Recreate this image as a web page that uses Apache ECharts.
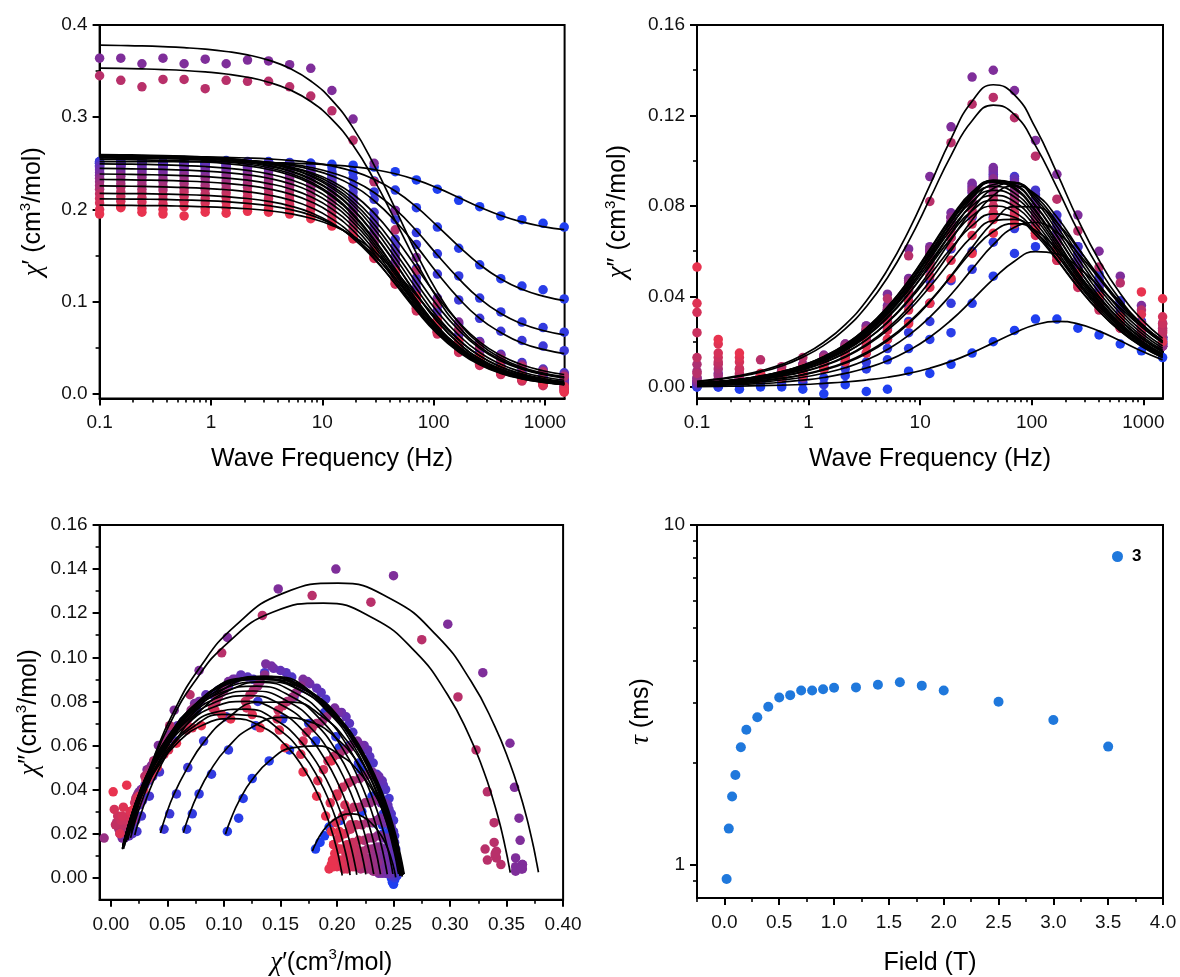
<!DOCTYPE html>
<html>
<head>
<meta charset="utf-8">
<script src="https://cdn.jsdelivr.net/npm/echarts@6/dist/echarts.min.js"></script>
<style>
html,body{margin:0;padding:0;background:#fff;}
#chart{width:1180px;height:977px;}
</style>
</head>
<body>
<div id="chart"></div>
<script>
// ---------------- data ----------------
// AC frequencies (Hz)
const freq = [0.1, 0.155, 0.24, 0.371, 0.574, 0.888, 1.37, 2.13, 3.29, 5.09, 7.88, 12.2, 18.9, 29.2, 45.2, 70.0, 108, 168, 259, 401, 621, 961, 1488];

// applied dc fields (T) and relaxation times (ms), panel d
const fieldT = [0.02, 0.04, 0.07, 0.1, 0.15, 0.2, 0.3, 0.4, 0.5, 0.6, 0.7, 0.8, 0.9, 1.0, 1.2, 1.4, 1.6, 1.8, 2.0, 2.5, 3.0, 3.5];
const tauMs = [0.91, 1.28, 1.59, 1.84, 2.22, 2.50, 2.72, 2.92, 3.11, 3.16, 3.26, 3.26, 3.29, 3.32, 3.33, 3.39, 3.45, 3.37, 3.26, 3.02, 2.67, 2.23];

// measured chi' (one row per field, one value per frequency)
const chiRealPts = [
[.250,.249,.251,.248,.250,.249,.250,.248,.249,.249,.250,.249,.248,.246,.241,.232,.222,.210,.203,.193,.189,.185,.181],
[.252,.250,.253,.251,.252,.250,.253,.251,.252,.251,.250,.246,.240,.231,.221,.202,.181,.158,.140,.125,.117,.113,.103],
[.251,.253,.252,.250,.253,.251,.252,.250,.251,.248,.247,.241,.234,.219,.199,.175,.152,.128,.104,.089,.078,.072,.067],
[.252,.250,.253,.251,.252,.251,.252,.251,.250,.249,.244,.238,.226,.211,.189,.162,.130,.102,.082,.068,.058,.052,.047],
[.250,.251,.252,.250,.252,.250,.251,.252,.251,.250,.246,.235,.219,.197,.168,.136,.104,.076,.057,.043,.034,.027,.023],
[.248,.250,.249,.251,.250,.248,.250,.251,.250,.248,.243,.232,.214,.190,.160,.126,.095,.069,.050,.037,.028,.022,.019],
[.247,.248,.249,.247,.249,.247,.248,.249,.248,.246,.241,.229,.211,.186,.155,.121,.090,.064,.046,.033,.025,.020,.016],
[.245,.247,.246,.245,.247,.246,.247,.246,.247,.245,.240,.227,.208,.182,.150,.115,.084,.059,.042,.030,.022,.018,.015],
[.243,.245,.244,.243,.245,.243,.244,.245,.244,.242,.237,.224,.204,.176,.144,.110,.079,.055,.038,.027,.020,.016,.012],
[.240,.242,.241,.240,.242,.241,.242,.241,.241,.239,.234,.221,.201,.174,.142,.108,.078,.055,.038,.027,.020,.016,.011],
[.237,.239,.238,.237,.239,.237,.238,.239,.238,.236,.231,.218,.198,.170,.137,.104,.074,.052,.036,.025,.018,.014,.010],
[.364,.364,.358,.364,.358,.363,.358,.362,.361,.357,.353,.329,.298,.250,.199,.148,.103,.078,.056,.042,.032,.026,.021],
[.234,.236,.235,.233,.236,.234,.235,.236,.235,.233,.228,.215,.195,.168,.136,.103,.073,.051,.035,.024,.017,.013,.008],
[.230,.232,.231,.230,.232,.230,.231,.232,.231,.229,.224,.211,.191,.164,.132,.100,.071,.049,.034,.023,.016,.010,-.006],
[.226,.228,.227,.225,.228,.226,.227,.228,.227,.225,.220,.207,.187,.161,.130,.098,.070,.048,.033,.023,.016,.012,.007],
[.222,.224,.222,.221,.223,.222,.223,.224,.222,.220,.214,.202,.182,.156,.126,.095,.068,.047,.032,.022,.015,.011,.005],
[.345,.340,.333,.341,.341,.331,.340,.339,.339,.333,.323,.307,.275,.230,.178,.134,.098,.070,.052,.038,.030,.024,.019],
[.217,.219,.218,.216,.219,.217,.218,.219,.217,.215,.210,.197,.178,.152,.123,.093,.067,.046,.032,.022,.015,.010,.004],
[.212,.214,.213,.211,.214,.212,.213,.214,.212,.210,.205,.192,.173,.148,.119,.090,.065,.045,.031,.021,.014,.009,.006],
[.207,.209,.208,.206,.209,.207,.208,.209,.207,.205,.200,.188,.170,.147,.120,.092,.067,.047,.033,.023,.016,.010,.003],
[.200,.203,.201,.200,.203,.201,.202,.203,.201,.199,.194,.183,.168,.149,.125,.098,.072,.051,.036,.025,.017,.011,.008],
[.195,.202,.197,.195,.193,.197,.196,.198,.197,.195,.190,.182,.170,.154,.132,.106,.080,.058,.041,.029,.020,.014,.002]
];

// measured chi''
const chiImagPts = [
[.000,.000,-.001,.000,.000,-.001,-.003,.001,-.002,-.001,.007,.006,.010,.015,.020,.025,.030,.030,.026,.023,.019,.016,.013],
[.001,.000,.001,.002,.001,.002,.004,.005,.008,.012,.017,.021,.024,.037,.049,.059,.062,.058,.053,.045,.036,.027,.021],
[.000,.001,.001,.002,.003,.004,.001,.008,.011,.017,.024,.029,.037,.052,.064,.070,.072,.069,.058,.047,.038,.029,.022],
[.001,.001,.002,.003,.004,.004,.008,.011,.015,.021,.029,.037,.047,.060,.075,.082,.080,.073,.062,.050,.038,.029,.022],
[.001,.002,.002,.003,.004,.006,.009,.013,.019,.026,.036,.047,.061,.075,.086,.093,.087,.076,.062,.048,.037,.028,.021],
[.001,.002,.003,.004,.005,.008,.011,.016,.021,.029,.040,.052,.066,.081,.091,.090,.085,.073,.059,.046,.035,.026,.020],
[.002,.002,.003,.004,.006,.008,.012,.016,.023,.031,.042,.055,.070,.084,.093,.091,.083,.071,.057,.044,.033,.025,.019],
[.002,.002,.003,.004,.006,.009,.012,.017,.024,.033,.044,.058,.073,.086,.094,.092,.083,.069,.055,.042,.032,.024,.019],
[.002,.002,.003,.005,.007,.009,.013,.018,.025,.034,.046,.060,.075,.088,.095,.090,.080,.067,.053,.040,.030,.023,.018],
[.002,.003,.003,.005,.006,.009,.013,.018,.025,.034,.046,.060,.075,.089,.096,.090,.080,.066,.052,.040,.030,.023,.019],
[.002,.003,.004,.005,.007,.010,.014,.019,.027,.036,.048,.062,.077,.090,.097,.089,.079,.065,.051,.039,.029,.022,.018],
[.004,.006,.003,.006,.005,.004,.009,.017,.027,.041,.061,.093,.115,.137,.140,.131,.109,.094,.076,.060,.049,.036,.028],
[.003,.003,.004,.005,.007,.010,.014,.019,.026,.035,.047,.061,.075,.087,.092,.087,.077,.064,.050,.038,.029,.022,.020],
[.004,.003,.004,.005,.007,.009,.013,.018,.025,.034,.046,.059,.073,.084,.089,.085,.076,.063,.049,.037,.028,.021,.018],
[.007,.005,.004,.005,.006,.009,.013,.018,.025,.034,.045,.058,.071,.082,.087,.084,.074,.061,.048,.036,.027,.021,.022],
[.010,.008,.005,.004,.006,.009,.012,.017,.024,.032,.044,.056,.070,.080,.085,.082,.072,.060,.047,.036,.027,.022,.025],
[.006,.010,.008,.012,.009,.013,.011,.016,.025,.039,.058,.082,.108,.125,.128,.119,.102,.083,.069,.053,.046,.034,.026],
[.013,.011,.006,.005,.006,.009,.012,.017,.024,.032,.043,.055,.068,.078,.083,.080,.071,.058,.046,.035,.026,.024,.024],
[.024,.013,.008,.005,.005,.008,.011,.016,.022,.030,.041,.053,.066,.076,.080,.077,.068,.056,.044,.034,.026,.026,.028],
[.033,.015,.011,.004,.004,.007,.010,.014,.020,.028,.038,.049,.062,.072,.077,.076,.067,.056,.045,.036,.028,.028,.031],
[.037,.019,.013,.005,.006,.006,.008,.013,.018,.025,.034,.044,.056,.067,.074,.074,.068,.058,.047,.037,.030,.032,.020],
[.053,.021,.015,.006,.004,.005,.008,.011,.015,.021,.028,.037,.048,.059,.068,.072,.069,.061,.050,.040,.031,.042,.039]
];

// fitted chi' curves (values at the same frequencies)
const chiRealFit = [
[.2519,.2519,.2519,.2518,.2517,.2516,.2515,.2512,.2509,.2503,.2495,.2482,.2463,.2433,.2387,.2321,.2234,.2130,.2026,.1935,.1865,.1815,.1782],
[.2578,.2578,.2576,.2575,.2573,.2570,.2565,.2558,.2548,.2533,.2509,.2472,.2415,.2328,.2200,.2028,.1820,.1601,.1403,.1247,.1135,.1061,.1013],
[.2558,.2556,.2555,.2553,.2550,.2545,.2538,.2528,.2513,.2490,.2455,.2399,.2313,.2185,.2003,.1770,.1507,.1251,.1034,.0872,.0761,.0688,.0641],
[.2567,.2566,.2564,.2561,.2557,.2551,.2543,.2530,.2511,.2481,.2435,.2364,.2256,.2095,.1875,.1603,.1309,.1037,.0819,.0667,.0553,.0483,.0438],
[.2576,.2574,.2572,.2568,.2563,.2556,.2544,.2528,.2502,.2463,.2401,.2307,.2165,.1960,.1690,.1372,.1054,.0777,.0565,.0416,.0317,.0252,.0211],
[.2586,.2584,.2581,.2577,.2571,.2563,.2550,.2531,.2502,.2457,.2388,.2280,.2118,.1891,.1600,.1274,.0958,.0692,.0494,.0357,.0269,.0211,.0174],
[.2585,.2583,.2580,.2576,.2570,.2561,.2547,.2526,.2494,.2445,.2369,.2253,.2080,.1839,.1535,.1204,.0892,.0637,.0449,.0322,.0238,.0184,.0149],
[.2595,.2593,.2589,.2585,.2578,.2568,.2553,.2531,.2496,.2443,.2360,.2232,.2046,.1791,.1478,.1143,.0836,.0591,.0415,.0296,.0218,.0168,.0135],
[.2585,.2582,.2579,.2574,.2567,.2556,.2540,.2517,.2480,.2423,.2335,.2200,.2003,.1737,.1419,.1086,.0787,.0551,.0383,.0271,.0199,.0152,.0122],
[.2575,.2572,.2569,.2564,.2557,.2546,.2531,.2507,.2470,.2414,.2326,.2192,.1995,.1730,.1414,.1082,.0784,.0549,.0382,.0270,.0198,.0152,.0121],
[.2564,.2562,.2558,.2553,.2546,.2534,.2518,.2492,.2453,.2393,.2299,.2157,.1952,.1677,.1354,.1025,.0736,.0512,.0353,.0248,.0180,.0136,.0108],
[.3782,.3778,.3773,.3765,.3754,.3738,.3713,.3676,.3619,.3530,.3393,.3186,.2885,.2482,.2009,.1527,.1104,.0776,.0544,.0390,.0290,.0226,.0185],
[.2544,.2542,.2538,.2533,.2526,.2515,.2498,.2473,.2434,.2374,.2281,.2141,.1937,.1664,.1343,.1017,.0730,.0508,.0351,.0247,.0179,.0136,.0107],
[.2494,.2492,.2489,.2484,.2476,.2466,.2449,.2424,.2386,.2327,.2237,.2099,.1899,.1632,.1317,.0997,.0716,.0499,.0345,.0243,.0176,.0134,.0106],
[.2445,.2442,.2439,.2434,.2427,.2416,.2400,.2376,.2339,.2281,.2192,.2057,.1861,.1600,.1292,.0978,.0703,.0490,.0339,.0239,.0174,.0132,.0105],
[.2385,.2382,.2379,.2374,.2367,.2357,.2341,.2318,.2281,.2225,.2138,.2007,.1816,.1561,.1260,.0955,.0686,.0478,.0332,.0234,.0171,.0130,.0104],
[.3532,.3529,.3524,.3517,.3507,.3491,.3469,.3434,.3380,.3298,.3170,.2977,.2696,.2321,.1880,.1430,.1036,.0730,.0514,.0370,.0277,.0218,.0179],
[.2325,.2323,.2319,.2315,.2308,.2298,.2283,.2260,.2224,.2170,.2085,.1957,.1771,.1522,.1229,.0932,.0670,.0468,.0325,.0229,.0167,.0128,.0102],
[.2255,.2253,.2250,.2245,.2239,.2229,.2214,.2192,.2157,.2104,.2022,.1898,.1718,.1477,.1193,.0905,.0651,.0455,.0316,.0224,.0164,.0126,.0101],
[.2175,.2173,.2171,.2167,.2161,.2152,.2139,.2119,.2088,.2040,.1966,.1853,.1688,.1465,.1199,.0920,.0669,.0471,.0331,.0237,.0176,.0137,.0112],
[.2116,.2114,.2112,.2109,.2103,.2096,.2085,.2067,.2041,.2001,.1939,.1843,.1701,.1503,.1254,.0982,.0727,.0517,.0363,.0258,.0190,.0145,.0117],
[.2047,.2045,.2043,.2041,.2036,.2030,.2021,.2008,.1987,.1955,.1905,.1828,.1713,.1547,.1327,.1069,.0810,.0585,.0413,.0292,.0212,.0160,.0126]
];

// fitted chi'' curves
const chiImagFit = [
[.0002,.0003,.0004,.0006,.0008,.0011,.0016,.0022,.0031,.0043,.0060,.0083,.0113,.0151,.0195,.0239,.0275,.0290,.0279,.0247,.0204,.0159,.0120],
[.0005,.0007,.0011,.0015,.0021,.0030,.0042,.0060,.0084,.0116,.0161,.0220,.0295,.0384,.0477,.0556,.0598,.0589,.0530,.0443,.0350,.0266,.0197],
[.0008,.0011,.0015,.0022,.0031,.0043,.0061,.0085,.0119,.0166,.0228,.0309,.0409,.0521,.0629,.0706,.0727,.0684,.0592,.0480,.0371,.0278,.0204],
[.0009,.0013,.0019,.0027,.0038,.0053,.0075,.0105,.0147,.0204,.0280,.0376,.0492,.0617,.0729,.0797,.0796,.0726,.0613,.0489,.0373,.0278,.0203],
[.0012,.0017,.0024,.0034,.0048,.0068,.0096,.0135,.0188,.0259,.0352,.0468,.0602,.0738,.0846,.0889,.0852,.0751,.0617,.0482,.0363,.0268,.0194],
[.0013,.0019,.0027,.0038,.0054,.0076,.0107,.0150,.0208,.0286,.0387,.0511,.0650,.0783,.0877,.0900,.0844,.0729,.0589,.0454,.0340,.0250,.0181],
[.0015,.0021,.0029,.0041,.0058,.0082,.0115,.0160,.0222,.0305,.0411,.0540,.0681,.0812,.0895,.0903,.0833,.0710,.0569,.0437,.0325,.0238,.0171],
[.0016,.0022,.0031,.0044,.0062,.0087,.0122,.0171,.0237,.0325,.0436,.0569,.0711,.0836,.0910,.0904,.0822,.0691,.0548,.0418,.0310,.0226,.0163],
[.0016,.0023,.0033,.0046,.0065,.0092,.0129,.0180,.0248,.0339,.0454,.0590,.0732,.0851,.0913,.0895,.0803,.0670,.0528,.0400,.0296,.0216,.0156],
[.0016,.0023,.0033,.0046,.0065,.0092,.0129,.0179,.0247,.0338,.0453,.0588,.0729,.0848,.0909,.0891,.0800,.0667,.0526,.0399,.0295,.0215,.0155],
[.0017,.0024,.0034,.0049,.0068,.0096,.0135,.0188,.0260,.0354,.0471,.0609,.0749,.0862,.0913,.0882,.0782,.0646,.0506,.0382,.0282,.0205,.0147],
[.0025,.0036,.0050,.0071,.0100,.0141,.0198,.0276,.0380,.0518,.0690,.0891,.1097,.1263,.1336,.1291,.1145,.0946,.0741,.0560,.0413,.0300,.0215],
[.0017,.0024,.0034,.0048,.0068,.0096,.0134,.0187,.0258,.0351,.0468,.0604,.0743,.0855,.0905,.0875,.0776,.0641,.0502,.0379,.0279,.0204,.0146],
[.0017,.0024,.0033,.0047,.0067,.0094,.0131,.0183,.0253,.0344,.0458,.0592,.0728,.0838,.0887,.0857,.0760,.0628,.0492,.0372,.0274,.0200,.0143],
[.0016,.0023,.0033,.0046,.0065,.0092,.0129,.0179,.0247,.0337,.0449,.0580,.0714,.0821,.0869,.0840,.0745,.0615,.0482,.0364,.0268,.0195,.0140],
[.0016,.0023,.0032,.0045,.0064,.0090,.0125,.0175,.0241,.0328,.0438,.0565,.0696,.0801,.0847,.0819,.0726,.0600,.0470,.0355,.0262,.0191,.0137],
[.0023,.0033,.0047,.0066,.0093,.0132,.0184,.0257,.0355,.0483,.0644,.0831,.1023,.1177,.1246,.1204,.1067,.0882,.0691,.0522,.0385,.0280,.0201],
[.0016,.0022,.0031,.0044,.0062,.0087,.0122,.0170,.0235,.0320,.0427,.0551,.0678,.0780,.0826,.0798,.0708,.0584,.0458,.0346,.0255,.0186,.0133],
[.0015,.0021,.0030,.0043,.0060,.0085,.0119,.0165,.0228,.0310,.0413,.0534,.0657,.0756,.0800,.0773,.0686,.0566,.0444,.0335,.0247,.0180,.0129],
[.0014,.0019,.0027,.0039,.0055,.0077,.0108,.0151,.0208,.0284,.0381,.0494,.0613,.0713,.0765,.0750,.0673,.0561,.0442,.0335,.0248,.0181,.0131],
[.0012,.0017,.0024,.0034,.0048,.0067,.0094,.0132,.0183,.0250,.0337,.0443,.0559,.0666,.0735,.0741,.0684,.0583,.0467,.0358,.0267,.0195,.0141],
[.0010,.0014,.0020,.0028,.0039,.0055,.0078,.0109,.0152,.0210,.0286,.0380,.0489,.0600,.0687,.0722,.0692,.0610,.0501,.0392,.0295,.0217,.0158]
];

// tick values
const freqTicks = [0.1, 1, 10, 100, 1000];
const freqMinorTicks = [0.2,0.3,0.4,0.5,0.6,0.7,0.8,0.9,2,3,4,5,6,7,8,9,20,30,40,50,60,70,80,90,200,300,400,500,600,700,800,900];
const chiRealTicks = [0, 0.1, 0.2, 0.3, 0.4];
const chiRealMinorTicks = [0.05, 0.15, 0.25, 0.35];
const chiImagTicks = [0, 0.04, 0.08, 0.12, 0.16];
const chiImagMinorTicks = [0.02, 0.06, 0.10, 0.14];
const coleXTicks = [0, 0.05, 0.10, 0.15, 0.20, 0.25, 0.30, 0.35, 0.40];
const coleXMinorTicks = [0.025, 0.075, 0.125, 0.175, 0.225, 0.275, 0.325, 0.375];
const coleYTicks = [0, 0.02, 0.04, 0.06, 0.08, 0.10, 0.12, 0.14, 0.16];
const coleYMinorTicks = [0.01, 0.03, 0.05, 0.07, 0.09, 0.11, 0.13, 0.15];
const fieldTicks = [0, 0.5, 1.0, 1.5, 2.0, 2.5, 3.0, 3.5, 4.0];
const fieldMinorTicks = [-0.25, 0.25, 0.75, 1.25, 1.75, 2.25, 2.75, 3.25, 3.75];
const tauTicks = [1, 10];
const tauMinorTicks = [0.9, 2, 3, 4, 5, 6, 7, 8, 9];

// ---------------- styles ----------------
const seriesColors = ['#1f3ff0','#293de8','#323bdf','#3c39d7','#4638cf','#4f36c7','#5934be','#6232b6','#6c30ae','#752fa6','#7a2e9e','#7f2e9a','#8e2f8b','#983083','#a2307b','#ac3173','#b8306a','#c03163','#ca325f','#d43259','#de3354','#e8334f'];
const FONT = '"Liberation Sans", Arial, Helvetica, sans-serif';
const SERIF = '"Liberation Serif", "DejaVu Serif", "Times New Roman", serif';
const BLACK = '#000';

const nameStyle = {
  color: BLACK, fontSize: 25, fontFamily: FONT, lineHeight: 30,
  rich: {
    g: { fontFamily: SERIF, fontStyle: 'italic', fontSize: 27, color: BLACK, lineHeight: 30 },
    s: { fontFamily: FONT, fontSize: 15, color: BLACK, verticalAlign: 'top', lineHeight: 18 }
  }
};

function mainAxis(o) {
  return {
    gridIndex: o.grid, type: o.type, min: o.min, max: o.max, logBase: 10,
    position: o.pos,
    axisLine: { show: true, onZero: false, lineStyle: { color: BLACK, width: 2 } },
    axisTick: { show: true, inside: false, length: 7, lineStyle: { color: BLACK, width: 2 }, customValues: o.ticks },
    axisLabel: { show: true, margin: o.margin, customValues: o.ticks, formatter: o.fmt,
      color: '#111', fontSize: 19, fontFamily: FONT },
    splitLine: { show: false },
    name: o.name, nameLocation: 'middle', nameGap: o.gap, nameTextStyle: nameStyle
  };
}
function minorAxis(grid, type, min, max, vals, pos) {
  return {
    gridIndex: grid, type: type, min: min, max: max, logBase: 10, position: pos,
    axisLine: { show: false, onZero: false }, axisLabel: { show: false }, splitLine: { show: false },
    axisTick: { show: true, inside: false, length: 4, lineStyle: { color: BLACK, width: 1.6 }, customValues: vals }
  };
}
const fmtLog = v => String(+Number(v).toPrecision(6));
const fix = n => v => Number(v).toFixed(n);

const gridStyle = { show: true, borderColor: BLACK, borderWidth: 2, backgroundColor: 'transparent', outerBoundsMode: 'none' };

const option = {
  backgroundColor: '#fff',
  animation: false,
  grid: [
    Object.assign({ left: 99.6, top: 25, width: 465, height: 373.6 }, gridStyle),
    Object.assign({ left: 697, top: 25, width: 466, height: 373.3 }, gridStyle),
    Object.assign({ left: 99.6, top: 525, width: 463.5, height: 374.8 }, gridStyle),
    Object.assign({ left: 697, top: 525, width: 466, height: 373 }, gridStyle)
  ],
  xAxis: [
    mainAxis({ grid: 0, type: 'log', min: 0.1, max: 1500, pos: 'bottom', ticks: freqTicks, fmt: fmtLog, margin: 15,
      name: 'Wave Frequency (Hz)', gap: 46 }),
    minorAxis(0, 'log', 0.1, 1500, freqMinorTicks, 'bottom'),
    mainAxis({ grid: 1, type: 'log', min: 0.1, max: 1500, pos: 'bottom', ticks: freqTicks, fmt: fmtLog, margin: 15,
      name: 'Wave Frequency (Hz)', gap: 46 }),
    minorAxis(1, 'log', 0.1, 1500, freqMinorTicks, 'bottom'),
    mainAxis({ grid: 2, type: 'value', min: -0.01, max: 0.40, pos: 'bottom', ticks: coleXTicks, fmt: fix(2), margin: 15,
      name: '{g|χ}′(cm{s|3}/mol)', gap: 48 }),
    minorAxis(2, 'value', -0.01, 0.40, coleXMinorTicks, 'bottom'),
    mainAxis({ grid: 3, type: 'value', min: -0.25, max: 4.0, pos: 'bottom', ticks: fieldTicks, fmt: fix(1), margin: 15,
      name: 'Field (T)', gap: 50 }),
    minorAxis(3, 'value', -0.25, 4.0, fieldMinorTicks, 'bottom')
  ],
  yAxis: [
    mainAxis({ grid: 0, type: 'value', min: -0.005, max: 0.4, pos: 'left', ticks: chiRealTicks, fmt: fix(1), margin: 12,
      name: '{g|χ}′ (cm{s|3}/mol)', gap: 51 }),
    minorAxis(0, 'value', -0.005, 0.4, chiRealMinorTicks, 'left'),
    mainAxis({ grid: 1, type: 'value', min: -0.005, max: 0.16, pos: 'left', ticks: chiImagTicks, fmt: fix(2), margin: 12,
      name: '{g|χ}″ (cm{s|3}/mol)', gap: 64 }),
    minorAxis(1, 'value', -0.005, 0.16, chiImagMinorTicks, 'left'),
    mainAxis({ grid: 2, type: 'value', min: -0.01, max: 0.16, pos: 'left', ticks: coleYTicks, fmt: fix(2), margin: 12,
      name: '{g|χ}″(cm{s|3}/mol)', gap: 55 }),
    minorAxis(2, 'value', -0.01, 0.16, coleYMinorTicks, 'left'),
    mainAxis({ grid: 3, type: 'log', min: 0.8, max: 10, pos: 'left', ticks: tauTicks, fmt: fmtLog, margin: 12,
      name: '{g|τ} (ms)', gap: 41 }),
    minorAxis(3, 'log', 0.8, 10, tauMinorTicks, 'left')
  ],
  legend: {
    show: true, selectedMode: false,
    data: [{ name: '3', icon: 'circle' }],
    left: 1107, top: 543, itemWidth: 11, itemHeight: 11,
    textStyle: { fontWeight: 'bold', fontSize: 17, fontFamily: FONT, color: BLACK, padding: [0, 0, 0, 4] }
  },
  series: []
};

const panels = [
  { axis: 0, x: (i, k) => freq[k], yPts: (i, k) => chiRealPts[i][k], yFit: (i, k) => chiRealFit[i][k], xFit: (i, k) => freq[k] },
  { axis: 2, x: (i, k) => freq[k], yPts: (i, k) => chiImagPts[i][k], yFit: (i, k) => chiImagFit[i][k], xFit: (i, k) => freq[k] },
  { axis: 4, x: (i, k) => chiRealPts[i][k], yPts: (i, k) => chiImagPts[i][k], yFit: (i, k) => chiImagFit[i][k], xFit: (i, k) => chiRealFit[i][k] }
];

panels.forEach(p => {
  chiRealPts.forEach((row, i) => {
    option.series.push({
      type: 'scatter', xAxisIndex: p.axis, yAxisIndex: p.axis, silent: true, z: 2,
      symbol: 'circle', symbolSize: 9.5,
      itemStyle: { color: seriesColors[i], opacity: 1 },
      data: freq.map((f, k) => [p.x(i, k), p.yPts(i, k)])
    });
  });
  chiRealFit.forEach((row, i) => {
    option.series.push({
      type: 'line', xAxisIndex: p.axis, yAxisIndex: p.axis, silent: true, z: 3,
      showSymbol: false, symbol: 'none', smooth: true,
      lineStyle: { color: BLACK, width: 1.7 },
      data: freq.map((f, k) => [p.xFit(i, k), p.yFit(i, k)])
    });
  });
});

option.series.push({
  name: '3', type: 'scatter', xAxisIndex: 6, yAxisIndex: 6, z: 4,
  symbol: 'circle', symbolSize: 10,
  itemStyle: { color: '#1f78dc', opacity: 1 },
  data: fieldT.map((f, i) => [f, tauMs[i]])
});

const chart = echarts.init(document.getElementById('chart'), null, { renderer: 'canvas' });
chart.setOption(option);
</script>
</body>
</html>
